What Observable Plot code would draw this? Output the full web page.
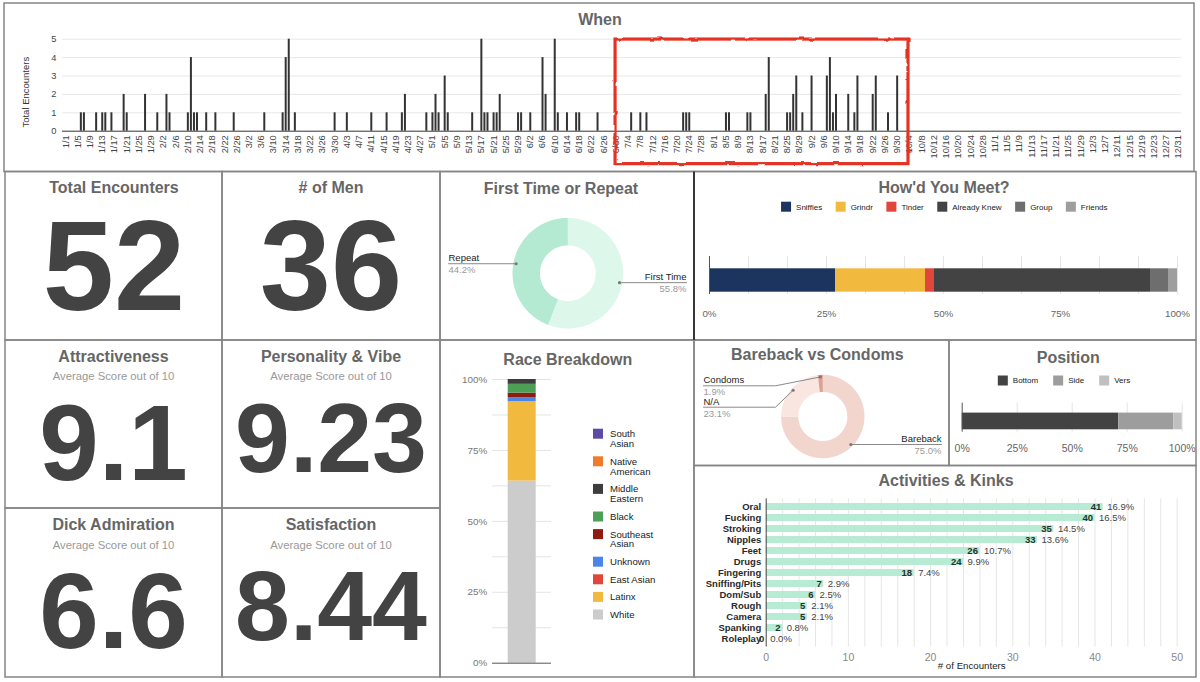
<!DOCTYPE html>
<html lang="en">
<head>
<meta charset="utf-8">
<title>Encounter Dashboard</title>
<script src="https://cdn.jsdelivr.net/npm/d3@7"></script>
<script src="https://cdn.jsdelivr.net/npm/@observablehq/plot@0.6"></script>
<style>
  html, body { margin: 0; padding: 0; background: #fff; }
  #dash { position: relative; width: 1200px; height: 682px; overflow: hidden; background: #fff;
          font-family: "Liberation Sans", Arial, Helvetica, sans-serif; }
</style>
</head>
<body>
<svg width="0" height="0" style="position:absolute">
  <defs>
    <filter id="marker-rough" x="-10%" y="-10%" width="120%" height="120%">
      <feTurbulence type="fractalNoise" baseFrequency="0.09" numOctaves="2" seed="7" result="noise"/>
      <feDisplacementMap in="SourceGraphic" in2="noise" scale="2.6" xChannelSelector="R" yChannelSelector="G"/>
    </filter>
  </defs>
</svg>
<div id="dash"></div>
<script>
const FONT = '"Liberation Sans", Arial, Helvetica, sans-serif';

// ---------------- data ----------------
// Daily log for 2023 (M/D) and number of encounters that day
const encounterDates = [
  "1/6","1/7","1/11","1/13","1/14","1/16","1/20","1/21","1/27","1/31",
  "2/3","2/4","2/10","2/11","2/12","2/13","2/16","2/19","2/25",
  "3/7","3/13","3/14","3/15","3/17","3/30",
  "4/3","4/11","4/16","4/21","4/22","4/29",
  "5/1","5/2","5/3","5/5","5/6","5/14","5/17","5/18","5/19","5/21","5/22","5/23","5/29","5/30",
  "6/2","6/6","6/7","6/10","6/11","6/14","6/17","6/18","6/24",
  "7/5","7/8","7/10","7/22","7/23","7/24",
  "8/5","8/6","8/12","8/13","8/18","8/19","8/25","8/26","8/27","8/28","8/30",
  "9/2","9/7","9/8","9/9","9/10","9/14","9/16","9/17","9/22","9/23","9/27","9/30"
];
const encounterCounts = [
  1,1,1,1,1,1,2,1,2,1,
  2,1,1,4,1,1,1,1,1,
  1,1,4,5,1,1,
  1,1,1,1,2,1,
  1,2,1,3,1,1,5,1,1,1,1,2,1,1,
  1,4,2,5,1,1,1,1,1,
  1,1,1,1,1,1,
  1,1,1,1,2,4,1,1,2,3,1,
  3,3,4,1,2,2,1,3,2,3,1,3
];
// hand-marked stretch on the timeline
const highlightFrom = "2023-06-29T21:30Z";
const highlightTo = "2023-10-03T17:00Z";

const kpiTitles = ["Total Encounters", "# of Men", "Attractiveness", "Personality & Vibe", "Dick Admiration", "Satisfaction"];
const kpiSubtitles = ["", "", "Average Score out of 10", "Average Score out of 10", "Average Score out of 10", "Average Score out of 10"];
const kpiValues = ["52", "36", "9.1", "9.23", "6.6", "8.44"];

const repeatLabels = ["First Time", "Repeat"];
const repeatCounts = [29, 23];
const repeatColors = ["#ddf8eb", "#b4ead1"];

const meetSources = ["Sniffies", "Grindr", "Tinder", "Already Knew", "Group", "Friends"];
const meetCounts = [14, 10, 1, 24, 2, 1];
const meetColors = ["#1b355e", "#f2b93f", "#e0473a", "#434343", "#6e6e6e", "#9e9e9e"];

// stacked bottom to top
const raceCategories = ["White", "Latinx", "East Asian", "Unknown", "Southeast Asian", "Black", "Middle Eastern", "Native American", "South Asian"];
const raceShares = [64.2, 28.0, 0, 1.4, 1.6, 3.1, 1.7, 0, 0];
const raceColors = ["#cccccc", "#f2b93f", "#e0473a", "#4a86e8", "#8e1c11", "#4e9f56", "#3d3d3d", "#f07b2a", "#5c4aa5"];

const protectionLabels = ["Bareback", "N/A", "Condoms"];
const protectionCounts = [39, 12, 1];
const protectionColors = ["#f2d5cd", "#f9e6e1", "#dea090"];

const positionLabels = ["Bottom", "Side", "Vers"];
const positionCounts = [37, 13, 2];
const positionColors = ["#434343", "#9d9d9d", "#c0c0c0"];

const activityNames = ["Oral", "Fucking", "Stroking", "Nipples", "Feet", "Drugs", "Fingering", "Sniffing/Pits", "Dom/Sub", "Rough", "Camera", "Spanking", "Roleplay"];
const activityCounts = [41, 40, 35, 33, 26, 24, 18, 7, 6, 5, 5, 2, 0];

// ---------------- helpers ----------------
const dash = document.getElementById("dash");
const pctFmt = d => `${Math.round(d * 100)}%`;
const oneDecimalPct = (v, total) => `${(v / total * 100).toFixed(1)}%`;

function place(node, left, top) {
  node.style.position = "absolute";
  node.style.left = left + "px";
  node.style.top = top + "px";
  dash.appendChild(node);
  return node;
}
function plotStyle(extra = {}) {
  return Object.assign({fontFamily: FONT, fontSize: "10px", color: "#777", background: "transparent", overflow: "visible"}, extra);
}

// ---------------- timeline ----------------
const parseDay = s => { const [m, d] = s.split("/").map(Number); return new Date(Date.UTC(2023, m - 1, d)); };
const encounters = encounterDates.map((s, i) => ({date: parseDay(s), count: encounterCounts[i]}));
const dayTicks = d3.utcDay.range(new Date(Date.UTC(2023, 0, 1)), new Date(Date.UTC(2024, 0, 1)), 4);

const timeline = Plot.plot({
  width: 1200, height: 172,
  marginLeft: 62, marginRight: 19, marginTop: 38.7, marginBottom: 41.3,
  style: plotStyle({fontSize: "9.3px", color: "#444"}),
  x: {type: "utc", domain: [new Date(Date.UTC(2022, 11, 31)), new Date(Date.UTC(2024, 0, 1))], label: null},
  y: {domain: [0, 5], label: null},
  marks: [
    Plot.gridY([1, 2, 3, 4, 5], {stroke: "#e8e8e8", strokeOpacity: 1}),
    Plot.axisY({ticks: [0, 1, 2, 3, 4, 5], tickFormat: d => String(d), tickSize: 0, tickPadding: 6, label: null}),
    Plot.axisX({ticks: dayTicks, tickFormat: d => `${d.getUTCMonth() + 1}/${d.getUTCDate()}`,
                tickRotate: -90, tickSize: 0, tickPadding: 4, label: null}),
    Plot.text(["Total Encounters"], {frameAnchor: "left", textAnchor: "middle", rotate: -90, dx: -37, dy: 7, fill: "#333", fontSize: 9.5}),
    Plot.ruleY([0], {stroke: "#333"}),
    Plot.ruleX(encounters, {x: "date", y1: 0, y2: "count", stroke: "#333", strokeWidth: 2}),
    Plot.rect([{from: new Date(highlightFrom), to: new Date(highlightTo)}],
              {x1: "from", x2: "to", y1: -1.79, y2: 4.98, fill: "none", stroke: "#e63322", strokeWidth: 3.2})
  ]
});
d3.select(timeline).selectAll('g[aria-label="rect"]').attr("filter", "url(#marker-rough)");
place(timeline, 0, 0);

// ---------------- donut helper ----------------
function donut({left, top, width, height, labels, counts, colors, cx, cy, rOuter, rInner, callouts}) {
  const total = d3.sum(counts);
  const ring = [], dots = [], leaders = [], names = [], pcts = [];
  let acc = 0;
  counts.forEach((c, i) => {
    const t0 = acc / total, t1 = (acc + c) / total;
    acc += c;
    const n = Math.max(2, Math.ceil((t1 - t0) * 720));
    const pt = (t, r) => ({slice: labels[i], color: colors[i], x: cx + r * Math.sin(2 * Math.PI * t), y: cy - r * Math.cos(2 * Math.PI * t)});
    for (let k = 0; k <= n; k++) ring.push(pt(t0 + (t1 - t0) * k / n, rOuter));
    for (let k = n; k >= 0; k--) ring.push(pt(t0 + (t1 - t0) * k / n, rInner));
    const co = callouts[i];
    const mid = pt((t0 + t1) / 2, rOuter * 0.95);
    const lineY = co.y ?? mid.y;
    dots.push(mid);
    leaders.push({k: i, x: mid.x, y: mid.y});
    if (co.elbow != null) leaders.push({k: i, x: co.elbow, y: lineY});
    leaders.push({k: i, x: co.x, y: lineY});
    names.push({x: co.x, y: lineY - 5.7, text: labels[i], anchor: co.anchor});
    pcts.push({x: co.x, y: lineY + 6.6, text: oneDecimalPct(c, total), anchor: co.anchor});
  });
  const textMarks = [];
  for (const anchor of ["start", "end"]) {
    textMarks.push(Plot.text(names.filter(d => d.anchor === anchor), {x: "x", y: "y", text: "text", textAnchor: anchor, fill: "#222", fontSize: 9.5}));
    textMarks.push(Plot.text(pcts.filter(d => d.anchor === anchor), {x: "x", y: "y", text: "text", textAnchor: anchor, fill: "#999", fontSize: 9.5}));
  }
  const chart = Plot.plot({
    width, height, margin: 0,
    style: plotStyle(),
    x: {domain: [0, width], range: [0, width], axis: null},
    y: {domain: [0, height], range: [0, height], axis: null},
    color: {type: "identity"},
    marks: [
      Plot.line(ring, {x: "x", y: "y", z: "slice", fill: "color", stroke: "none", curve: "linear-closed"}),
      Plot.line(leaders, {x: "x", y: "y", z: "k", stroke: "#8a8a8a", strokeWidth: 1}),
      Plot.dot(dots, {x: "x", y: "y", r: 1.6, fill: "#7a7a7a"}),
      ...textMarks
    ]
  });
  place(chart, left, top);
}

// First time or repeat
donut({
  left: 440, top: 172, width: 254, height: 168,
  labels: repeatLabels, counts: repeatCounts, colors: repeatColors,
  cx: 127.3, cy: 100.7, rOuter: 55.3, rInner: 27.8,
  callouts: [{anchor: "end", x: 246}, {anchor: "start", x: 8}]
});

// Bareback vs condoms
donut({
  left: 694, top: 340, width: 255, height: 125,
  labels: protectionLabels, counts: protectionCounts, colors: protectionColors,
  cx: 128.3, cy: 76, rOuter: 41.7, rInner: 24.5,
  callouts: [{anchor: "end", x: 247}, {anchor: "start", x: 9, y: 66.7, elbow: 81}, {anchor: "start", x: 9, y: 45.3, elbow: 81}]
});

// ---------------- 100% stacked horizontal bars ----------------
function stackedBar({left, top, width, height, margins, labels, counts, colors, grid, ticks, tickPadding, insetTop, insetBottom, fontSize}) {
  const rows = labels.map((s, i) => ({label: s, count: counts[i], color: colors[i]}));
  const chart = Plot.plot({
    width, height,
    marginLeft: margins[0], marginRight: margins[1], marginTop: margins[2], marginBottom: margins[3],
    style: plotStyle({fontSize: fontSize + "px", color: "#666"}),
    x: {domain: [0, 1], label: null},
    y: {axis: null, padding: 0, label: null},
    color: {type: "identity"},
    marks: [
      Plot.gridX(grid, {stroke: "#e4e4e4", strokeOpacity: 1}),
      Plot.barX(rows, {x: "count", y: () => "all", fill: "color", offset: "normalize", insetTop, insetBottom}),
      Plot.ruleX([0], {stroke: "#555"}),
      Plot.axisX({ticks, tickFormat: pctFmt, tickSize: 0, tickPadding, label: null})
    ]
  });
  place(chart, left, top);
}

stackedBar({
  left: 694, top: 172, width: 502, height: 168, margins: [15, 19, 84, 46],
  labels: meetSources, counts: meetCounts, colors: meetColors,
  grid: d3.range(1, 13).map(i => i / 12), ticks: [0, 0.25, 0.5, 0.75, 1], tickPadding: 15.5,
  insetTop: 12.3, insetBottom: 2.3, fontSize: 9.8
});

stackedBar({
  left: 949, top: 340, width: 247, height: 125, margins: [12.7, 14.3, 62.7, 33.3],
  labels: positionLabels, counts: positionCounts, colors: positionColors,
  grid: [0.25, 0.5, 0.75, 1], ticks: [0, 0.25, 0.5, 0.75, 1], tickPadding: 12,
  insetTop: 9.6, insetBottom: 2.7, fontSize: 10.5
});

// ---------------- race breakdown ----------------
const raceRows = raceCategories.map((s, i) => ({category: s, share: raceShares[i], color: raceColors[i]}));
const race = Plot.plot({
  width: 254, height: 337,
  marginLeft: 52, marginRight: 143, marginTop: 39, marginBottom: 14.3,
  style: plotStyle({fontSize: "9.9px", color: "#777"}),
  x: {axis: null, padding: 0, label: null},
  y: {domain: [0, 1], label: null},
  color: {type: "identity"},
  marks: [
    Plot.gridY(d3.range(1, 9).map(i => i / 8), {stroke: "#e4e4e4", strokeOpacity: 1}),
    Plot.barY(raceRows, {x: () => "race", y: "share", fill: "color", offset: "normalize", insetLeft: 15.7, insetRight: 15.3}),
    Plot.ruleY([0], {stroke: "#555"}),
    Plot.axisY({ticks: [0, 0.25, 0.5, 0.75, 1], tickFormat: pctFmt, tickSize: 0, tickPadding: 5.3, label: null})
  ]
});
place(race, 440, 340);

// ---------------- activities & kinks ----------------
const activityTotal = d3.sum(activityCounts);
const activities = activityNames.map((s, i) => ({name: s, count: activityCounts[i]}));
const kinks = Plot.plot({
  width: 502, height: 212,
  marginLeft: 71.7, marginRight: 19.3, marginTop: 33.3, marginBottom: 30.5,
  style: plotStyle({fontSize: "9.5px", color: "#888"}),
  x: {domain: [0, 50], label: null},
  y: {domain: activityNames, padding: 0.4, axis: null, label: null},
  marks: [
    Plot.gridX(d3.range(2, 51, 2), {stroke: "#e6e6e6", strokeOpacity: 1}),
    Plot.barX(activities, {x: "count", y: "name", fill: "#b7ebd4"}),
    Plot.ruleX([0], {stroke: "#444"}),
    Plot.text(activities, {y: "name", text: "name", frameAnchor: "left", textAnchor: "end", dx: -5, fontWeight: "bold", fill: "#2a2a2a"}),
    Plot.text(activities, {x: "count", y: "name", text: d => String(d.count), textAnchor: "end", dx: -2, fontWeight: "bold", fill: "#22332c"}),
    Plot.text(activities, {x: "count", y: "name", text: d => oneDecimalPct(d.count, activityTotal), textAnchor: "start", dx: 4, fill: "#444"}),
    Plot.axisX({ticks: [0, 10, 20, 30, 40, 50], tickSize: 0, tickPadding: 7, label: null, fontSize: 10.5}),
    Plot.text(["# of Encounters"], {frameAnchor: "bottom", dy: 21.8, fill: "#222", fontSize: 9.7})
  ]
});
place(kinks, 694, 465);

// ---------------- frames, titles, KPI tiles, legends ----------------
const overlay = d3.select(dash).append("svg")
  .attr("width", 1200).attr("height", 682)
  .style("position", "absolute").style("left", 0).style("top", 0)
  .style("pointer-events", "none").style("font-family", FONT);

const panels = [
  [4, 3, 1194, 171.5],
  [5, 171.5, 222, 340], [222, 171.5, 440, 340], [440, 171.5, 694, 340], [694, 171.5, 1196, 340],
  [5, 340, 222, 508], [222, 340, 440, 508], [5, 508, 222, 677], [222, 508, 440, 677],
  [440, 340, 694, 677], [694, 340, 949, 465.5], [949, 340, 1196, 465.5], [694, 465.5, 1196, 677]
];
overlay.selectAll("rect.panel").data(panels).join("rect")
  .attr("x", d => d[0]).attr("y", d => d[1])
  .attr("width", d => d[2] - d[0]).attr("height", d => d[3] - d[1])
  .attr("fill", "none").attr("stroke", "#858585").attr("stroke-width", 1.5);
overlay.append("line").attr("x1", 694).attr("x2", 694).attr("y1", 171.5).attr("y2", 340)
  .attr("stroke", "#222").attr("stroke-width", 1.6);

const chartTitles = [
  ["When", 600, 25], ["First Time or Repeat", 561, 193.5], ["How'd You Meet?", 944, 192.7],
  ["Race Breakdown", 567.8, 365], ["Bareback vs Condoms", 817.3, 360], ["Position", 1068.3, 363.3],
  ["Activities & Kinks", 946, 485.7]
];
const kpiLayout = [
  {cx: 114, titleY: 192.7, valueY: 310, size: 128},
  {cx: 331, titleY: 192.7, valueY: 310, size: 128},
  {cx: 113.5, titleY: 361.7, subY: 380.2, valueY: 480, size: 107},
  {cx: 331, titleY: 361.7, subY: 380.2, valueY: 472.3, size: 98.6},
  {cx: 113.5, titleY: 530, subY: 548.5, valueY: 648, size: 107},
  {cx: 331, titleY: 530, subY: 548.5, valueY: 640, size: 98.6}
];
const titleText = (txt, x, y) => overlay.append("text").attr("x", x).attr("y", y)
  .attr("text-anchor", "middle").attr("font-weight", "bold").attr("font-size", 16).attr("fill", "#666").text(txt);

chartTitles.forEach(([t, x, y]) => titleText(t, x, y));
kpiLayout.forEach((k, i) => {
  titleText(kpiTitles[i], k.cx, k.titleY);
  if (kpiSubtitles[i]) overlay.append("text").attr("x", k.cx).attr("y", k.subY).attr("text-anchor", "middle")
    .attr("font-size", 11.3).attr("fill", "#999").text(kpiSubtitles[i]);
  overlay.append("text").attr("x", k.cx).attr("y", k.valueY).attr("text-anchor", "middle")
    .attr("font-weight", "bold").attr("font-size", k.size).attr("fill", "#434343").text(kpiValues[i]);
});

// horizontal swatch legend, centred on cx
function rowLegend(labels, colors, cx, cy, fontSize, gap) {
  const g = overlay.append("g").attr("font-size", fontSize).attr("fill", "#222");
  const widths = labels.map(l => {
    const t = g.append("text").text(l);
    const w = t.node().getComputedTextLength();
    t.remove();
    return w;
  });
  const total = d3.sum(widths) + labels.length * 15 + gap * (labels.length - 1);
  let x = cx - total / 2;
  labels.forEach((l, i) => {
    g.append("rect").attr("x", x).attr("y", cy - 5).attr("width", 10).attr("height", 10).attr("fill", colors[i]);
    g.append("text").attr("x", x + 15).attr("y", cy + fontSize * 0.35).text(l);
    x += 15 + widths[i] + gap;
  });
}
rowLegend(meetSources, meetColors, 944.3, 206.7, 8, 13.5);
rowLegend(positionLabels, positionColors, 1064, 380.5, 8, 15);

// vertical legend for the race breakdown, top entry = top of the stack
(function raceLegend() {
  const g = overlay.append("g").attr("font-size", 9.6).attr("fill", "#222");
  let y = 433.7;
  raceCategories.slice().reverse().forEach((name, j) => {
    const color = raceColors[raceCategories.length - 1 - j];
    const probe = g.append("text").text(name);
    const w = probe.node().getComputedTextLength();
    probe.remove();
    const lines = (w > 48 && name.includes(" ")) ? [name.slice(0, name.indexOf(" ")), name.slice(name.indexOf(" ") + 1)] : [name];
    g.append("rect").attr("x", 593).attr("y", y - 5).attr("width", 10).attr("height", 10).attr("fill", color);
    lines.forEach((ln, k) => g.append("text").attr("x", 610).attr("y", y + 3.4 + k * 9.8).text(ln));
    y += lines.length === 2 ? 27.6 : 17.6;
  });
})();
</script>
</body>
</html>
